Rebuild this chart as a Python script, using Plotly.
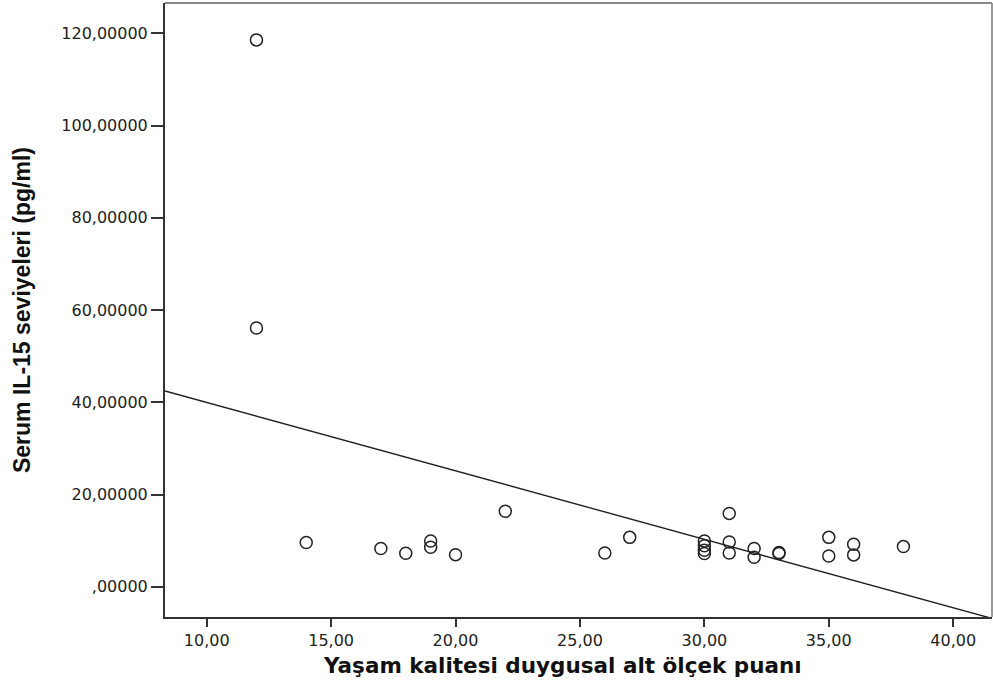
import numpy as np
import plotly.graph_objects as go

# Data
quality_score = [12, 12, 14, 17, 18, 19, 19, 20, 22, 26, 27, 30, 30, 30, 30,
                 31, 31, 31, 32, 32, 33, 33, 35, 35, 36, 36, 38]
il15_level = [118.6, 56.1, 9.6, 8.3, 7.25, 9.9, 8.55, 6.95, 16.35, 7.3, 10.7,
              9.9, 8.9, 7.9, 7.2, 15.9, 9.7, 7.3, 8.3, 6.4, 7.4, 7.2,
              10.7, 6.65, 9.2, 6.9, 8.7]

x_ticks = [10, 15, 20, 25, 30, 35, 40]
x_tick_labels = ["10,00", "15,00", "20,00", "25,00", "30,00", "35,00", "40,00"]
y_ticks = [0, 20, 40, 60, 80, 100, 120]
y_tick_labels = [",00000", "20,00000", "40,00000", "60,00000", "80,00000",
                 "100,00000", "120,00000"]

x_range = [8.324, 41.56]
y_range = [-6.57, 126.6]

x_title = "Yaşam kalitesi duygusal alt ölçek puanı"
y_title = "Serum IL-15 seviyeleri (pg/ml)"

# Linear fit line (least squares) across the full axis range
slope, intercept = np.polyfit(quality_score, il15_level, 1)
fit_x = np.array(x_range)
fit_y = intercept + slope * fit_x

fig = go.Figure()
fig.add_trace(go.Scatter(
    x=fit_x, y=fit_y, mode="lines",
    line=dict(color="#222222", width=1.4),
    hoverinfo="skip", showlegend=False,
))
fig.add_trace(go.Scatter(
    x=quality_score, y=il15_level, mode="markers",
    marker=dict(symbol="circle-open", size=12, color="#222222",
                line=dict(width=1.5, color="#222222")),
    showlegend=False,
))

tick_font = dict(family="DejaVu Sans", size=16, color="#222222")

fig.update_layout(
    width=993, height=693,
    margin=dict(l=165, r=1, t=3, b=76),
    paper_bgcolor="white", plot_bgcolor="white",
    xaxis=dict(
        range=x_range, tickmode="array", tickvals=x_ticks, ticktext=x_tick_labels,
        showgrid=False, zeroline=False, showline=True, linecolor="#333333",
        linewidth=2, ticks="outside", ticklen=8, tickwidth=2, tickcolor="#333333",
        tickfont=tick_font,
    ),
    yaxis=dict(
        range=y_range, tickmode="array", tickvals=y_ticks, ticktext=y_tick_labels,
        showgrid=False, zeroline=False, showline=True, linecolor="#333333",
        linewidth=2, ticks="outside", ticklen=12, tickwidth=2, tickcolor="#333333",
        tickfont=tick_font,
    ),
    shapes=[
        dict(type="line", xref="paper", yref="paper", x0=0, x1=1, y0=1, y1=1,
             line=dict(color="#888888", width=2)),
        dict(type="line", xref="paper", yref="paper", x0=1, x1=1, y0=0, y1=1,
             line=dict(color="#999999", width=2)),
    ],
    annotations=[
        dict(text=x_title, xref="paper", yref="paper", x=0.4807, y=-0.0782,
             xanchor="center", yanchor="middle", showarrow=False,
             font=dict(family="DejaVu Sans", size=21.5, color="#111111",
                       weight="bold")),
        dict(text=y_title, xref="paper", yref="paper", x=-0.1729, y=0.5,
             xanchor="center", yanchor="middle", showarrow=False, textangle=-90,
             font=dict(family="Liberation Sans, Arial", size=23,
                       color="#111111", weight="bold")),
    ],
)

fig.write_html("out.html")
